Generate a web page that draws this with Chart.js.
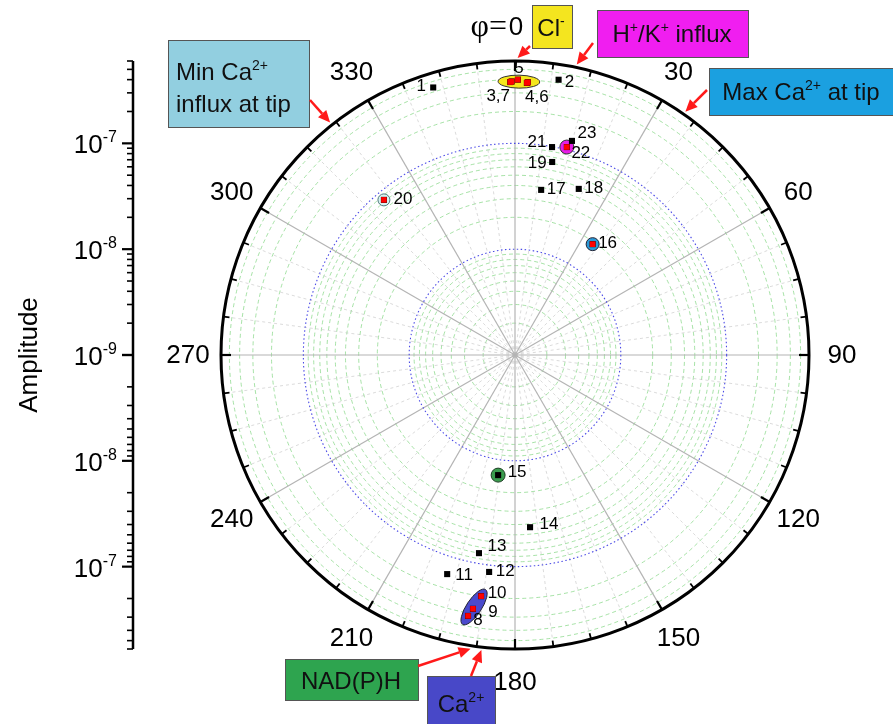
<!DOCTYPE html>
<html>
<head>
<meta charset="utf-8">
<script src="https://cdn.jsdelivr.net/npm/chart.js@4.4.1/dist/chart.umd.min.js"></script>
<style>
html,body{margin:0;padding:0;background:#fff;}
#wrap{width:893px;height:724px;position:relative;}
</style>
</head>
<body>
<div id="wrap"><canvas id="c"></canvas></div>
<script>
// ---------- DATA ----------
const pointLabels = ['1','2','3','4','5','6','7','8','9','10','11','12','13','14','15','16','17','18','19','20','21','22','23'];
const phaseDeg    = [343, 9, 359, 2.7, 0.6, 2.5, 359.3, 190.2, 189.4, 188, 197.2, 186.8, 190.3, 175, 188, 35, 9, 21, 10.9, 319.8, 10.1, 14, 14.9];
const amplitude   = [4.4e-7, 4.3e-7, 3.8e-7, 3.8e-7, 4.0e-7, 3.75e-7, 3.85e-7, 3.2e-7, 2.7e-7, 2.0e-7, 1.47e-7, 1.16e-7, 8.0e-8, 4.3e-8, 1.4e-8, 1.9e-8, 3.8e-8, 4.8e-8, 7.2e-8, 8.3e-8, 9.9e-8, 1.06e-7, 1.24e-7];
const redPoints   = ['3','4','5','6','7','8','9','10','16','20','22'];
const clGroup     = ['3','4','5','6','7'];
const caGroup     = ['8','9','10'];
const angleTicks  = [0,30,60,90,120,150,180,210,240,270,300,330];
const ampMin = 1e-9, ampMax = 6e-7;
const ampMajorTicks = [1e-9, 1e-8, 1e-7];
const ampTickLabels = ['-9','-8','-7'];

// ---------- styles / placement ----------
const labelText = {'3':'3,7','4':'4,6','6':'','7':''};
const labelOff = {'1':[-12,-1],'2':[11,3],'3':[-12,14],'4':[9,15],'5':[1,-11],'8':[10,4],'9':[20,3],'10':[16,-3],
 '11':[17,1],'12':[16,-1],'13':[18,-7],'14':[19,-3],'15':[19,-3],'16':[15,-1],'17':[15,-1],'18':[15,-1],
 '19':[-15,1],'20':[19,-1],'21':[-15,-5],'22':[14,6],'23':[15,-8]};
const highlights = [
  {label:'22', fill:'#e61ee6', border:'#333', r:7},
  {label:'16', fill:'#2a9ad8', border:'#223', r:6.5},
  {label:'20', fill:'#d8f0f0', border:'#4b7a7a', r:6},
  {label:'15', fill:'#3a9c4e', border:'#1f3f25', r:7}
];
const FONT = "'Liberation Sans', Arial, sans-serif";

const R = Math.log10(ampMax/ampMin);
function toXY(phi, amp){ const r = Math.log10(amp/ampMin), t = phi*Math.PI/180; return {x:r*Math.sin(t), y:r*Math.cos(t)}; }
const pts = phaseDeg.map((p,i)=>toXY(p, amplitude[i]));
const idx = l => pointLabels.indexOf(l);

const datasets = [
  {label:'all', data:pts, pointStyle:'rect', pointRadius:4.3, backgroundColor:'#000', borderWidth:0, order:2},
  {label:'red', data:redPoints.map(l=>pts[idx(l)]), pointStyle:'rect', pointRadius:4, backgroundColor:'#ff0000', borderWidth:0, order:1}
];
highlights.forEach(h=>datasets.push({label:'h'+h.label, data:[pts[idx(h.label)]], pointStyle:'circle', pointRadius:h.r,
  backgroundColor:h.fill, borderColor:h.border, borderWidth:1, order:3}));

function rich(ctx, segs, x, y, size, align){
  const w = segs.reduce((s,[t,sup])=>{ctx.font=(sup?Math.round(size*0.6):size)+'px '+FONT; return s+ctx.measureText(t).width;},0);
  let sx = align==='center'? x-w/2 : align==='right'? x-w : x;
  ctx.textAlign='left'; ctx.textBaseline='alphabetic';
  segs.forEach(([t,sup])=>{
    ctx.font=(sup?Math.round(size*0.6):size)+'px '+FONT;
    ctx.fillText(t, sx, sup? y-size*0.42 : y);
    sx += ctx.measureText(t).width;
  });
}
function arrow(ctx,x1,y1,x2,y2){
  const a=Math.atan2(y2-y1,x2-x1), hl=12, hw=5.5;
  const bx=x2-hl*Math.cos(a), by=y2-hl*Math.sin(a);
  ctx.strokeStyle='#ff1a1a'; ctx.fillStyle='#ff1a1a'; ctx.lineWidth=2.5; ctx.setLineDash([]);
  ctx.beginPath(); ctx.moveTo(x1,y1); ctx.lineTo(bx,by); ctx.stroke();
  ctx.beginPath(); ctx.moveTo(x2,y2);
  ctx.lineTo(bx+hw*Math.sin(a), by-hw*Math.cos(a)); ctx.lineTo(bx-hw*Math.sin(a), by+hw*Math.cos(a)); ctx.closePath(); ctx.fill();
}

const annotations = [
  {box:[532,5,40,43], fill:'#f4e51f', lines:[[['Cl',0],['-',1]]], tx:551, ty:[36], align:'center', from:[530,46], phi:0.5},
  {box:[597,10,151,47], fill:'#f01ef0', lines:[[['H',0],['+',1],['/K',0],['+',1],[' influx',0]]], tx:672, ty:[42], align:'center', from:[593,43], phi:12},
  {box:[709,68,184,47], fill:'#1ba0e0', lines:[[['Max Ca',0],['2+',1],[' at tip',0]]], tx:801, ty:[100], align:'center', from:[707,90], phi:35},
  {box:[168,40,141,87], fill:'#92cfe0', lines:[[['Min Ca',0],['2+',1]],[['influx at tip',0]]], tx:176, ty:[80,112], align:'left', from:[310,100], phi:321.5},
  {box:[285,659,133,41], fill:'#2ea44f', lines:[[['NAD(P)H',0]]], tx:351, ty:[689], align:'center', from:[418,666], phi:188.6},
  {box:[427,676,68,50], fill:'#4848c8', lines:[[['Ca',0],['2+',1]]], tx:461, ty:[712], align:'center', from:[471,676], phi:186.5}
];

const polarPlugin = {
  id:'polar',
  beforeDatasetsDraw(chart){
    const ctx=chart.ctx, xs=chart.scales.x, ys=chart.scales.y;
    const cx=xs.getPixelForValue(0), cy=ys.getPixelForValue(0);
    const P=(phi,u)=>{const t=phi*Math.PI/180; return [xs.getPixelForValue(u*Math.sin(t)), ys.getPixelForValue(u*Math.cos(t))];};
    const rp=u=>xs.getPixelForValue(u)-cx;
    const circ=r=>{ctx.beginPath(); ctx.arc(cx,cy,r,0,Math.PI*2); ctx.stroke();};
    ctx.save();
    ctx.setLineDash([4,3]); ctx.strokeStyle='rgba(120,210,120,0.65)'; ctx.lineWidth=1;
    for(let d=0; d<3; d++) for(let m=2; m<=9; m++){const u=d+Math.log10(m); if(u<R-0.01) circ(rp(u));}
    ctx.setLineDash([3,3]); ctx.strokeStyle='rgba(190,190,190,0.55)';
    for(let a=0; a<360; a+=7.5){ if(a%30===0) continue; const [x,y]=P(a,R); ctx.beginPath(); ctx.moveTo(cx,cy); ctx.lineTo(x,y); ctx.stroke(); }
    ctx.setLineDash([]); ctx.strokeStyle='#b4b4b4'; ctx.lineWidth=1.2;
    angleTicks.forEach(a=>{const [x,y]=P(a,R); ctx.beginPath(); ctx.moveTo(cx,cy); ctx.lineTo(x,y); ctx.stroke();});
    ctx.setLineDash([1.5,2.5]); ctx.strokeStyle='#4a4ae6'; ctx.lineWidth=1.1;
    ampMajorTicks.slice(1).forEach(v=>circ(rp(Math.log10(v/ampMin))));
    ctx.setLineDash([]); ctx.strokeStyle='#000'; ctx.lineWidth=3; circ(rp(R));
    for(let a=0; a<360; a+=7.5){
      const maj=a%30===0, len=maj?10:6;
      const [x1,y1]=P(a,R), t=a*Math.PI/180;
      ctx.lineWidth=maj?2.2:1.8;
      ctx.beginPath(); ctx.moveTo(x1,y1); ctx.lineTo(x1-len*Math.sin(t), y1+len*Math.cos(t)); ctx.stroke();
    }
    const meta=chart.getDatasetMeta(0);
    const ell=(group, fill, stroke, pad, minor)=>{
      const ps=group.map(l=>meta.data[idx(l)]);
      let best=[ps[0],ps[0]],bd=-1;
      ps.forEach(a=>ps.forEach(b=>{const d=Math.hypot(a.x-b.x,a.y-b.y); if(d>bd){bd=d;best=[a,b];}}));
      const ex=ps.reduce((s,p)=>s+p.x,0)/ps.length, ey=ps.reduce((s,p)=>s+p.y,0)/ps.length;
      const ang=Math.atan2(best[1].y-best[0].y, best[1].x-best[0].x);
      ctx.beginPath(); ctx.ellipse(ex,ey,bd/2+pad,minor,ang,0,Math.PI*2);
      ctx.fillStyle=fill; ctx.fill(); ctx.strokeStyle=stroke; ctx.lineWidth=1; ctx.stroke();
    };
    ell(clGroup,'#f5e61a','#333',12,6.5);
    ell(caGroup,'#4a4acc','#223',9,7.5);
    ctx.restore();
  },
  afterDatasetsDraw(chart){
    const ctx=chart.ctx, xs=chart.scales.x, ys=chart.scales.y;
    const cx=xs.getPixelForValue(0), cy=ys.getPixelForValue(0);
    const rp=u=>xs.getPixelForValue(u)-cx;
    const P=(phi,u)=>{const t=phi*Math.PI/180; return [xs.getPixelForValue(u*Math.sin(t)), ys.getPixelForValue(u*Math.cos(t))];};
    ctx.save();
    ctx.fillStyle='#000';
    const meta=chart.getDatasetMeta(0);
    ctx.font='17px '+FONT; ctx.textAlign='center'; ctx.textBaseline='middle';
    pointLabels.forEach((l,i)=>{
      const t = (l in labelText)? labelText[l] : l; if(!t) return;
      const o=labelOff[l]||[12,0]; const el=meta.data[i];
      ctx.fillText(t, el.x+o[0], el.y+o[1]);
    });
    const labR = R + (33/rp(1));
    ctx.font='26px '+FONT;
    angleTicks.forEach(a=>{
      if(a===0) return;
      const [x,y]=P(a,labR); ctx.fillText(String(a), x, y+1);
    });
    const [x0,y0]=P(0,labR);
    ctx.textAlign='left'; ctx.font='32px "Liberation Serif", serif';
    const phiW=ctx.measureText('φ=').width;
    ctx.fillText('φ=', x0-8-phiW, y0);
    ctx.font='26px '+FONT; ctx.textAlign='center'; ctx.fillText('0', x0+1, y0);
    const ax=133;
    ctx.strokeStyle='#000'; ctx.lineWidth=2.5; ctx.setLineDash([]);
    ctx.beginPath(); ctx.moveTo(ax, ys.getPixelForValue(R)); ctx.lineTo(ax, ys.getPixelForValue(-R)); ctx.stroke();
    for(let d=0; d<3; d++) for(let m=1; m<=9; m++){
      const u=d+Math.log10(m); if(u>R+0.001) continue;
      const maj=m===1, len=maj?11:6;
      ctx.lineWidth=maj?2.2:1.6;
      [u,-u].forEach(s=>{const y=ys.getPixelForValue(s); ctx.beginPath(); ctx.moveTo(ax,y); ctx.lineTo(ax-len,y); ctx.stroke();});
    }
    ampMajorTicks.forEach((v,i)=>{
      const u=Math.log10(v/ampMin);
      const ysSet = u===0? [0] : [u,-u];
      ysSet.forEach(s=>{ const y=ys.getPixelForValue(s); rich(ctx, [['10',0],[ampTickLabels[i],1]], 117, y+10, 26, 'right'); });
    });
    ctx.save(); ctx.translate(30, cy); ctx.rotate(-Math.PI/2);
    ctx.font='26px '+FONT; ctx.textAlign='center'; ctx.textBaseline='middle'; ctx.fillText('Amplitude',0,0);
    ctx.restore();
    annotations.forEach(a=>{
      const [bx,by,bw,bh]=a.box;
      ctx.fillStyle=a.fill; ctx.fillRect(bx,by,bw,bh);
      ctx.strokeStyle='#555'; ctx.lineWidth=1; ctx.strokeRect(bx+0.5,by+0.5,bw,bh);
      ctx.fillStyle='#111';
      a.lines.forEach((ln,k)=>rich(ctx, ln, a.tx, a.ty[k], 24, a.align));
      const [tx,ty]=P(a.phi, R + 3/rp(1));
      arrow(ctx, a.from[0], a.from[1], tx, ty);
    });
    ctx.restore();
  }
};

new Chart(document.getElementById('c'), {
  type:'scatter',
  data:{datasets},
  options:{
    responsive:true, maintainAspectRatio:false, animation:false,
    layout:{padding:{left:221,right:84,top:61,bottom:75}},
    plugins:{legend:{display:false}, tooltip:{enabled:false}},
    scales:{
      x:{type:'linear', min:-R, max:R, display:false},
      y:{type:'linear', min:-R, max:R, display:false}
    },
    datasets:{scatter:{clip:false}}
  },
  plugins:[polarPlugin]
});
</script>
</body>
</html>
